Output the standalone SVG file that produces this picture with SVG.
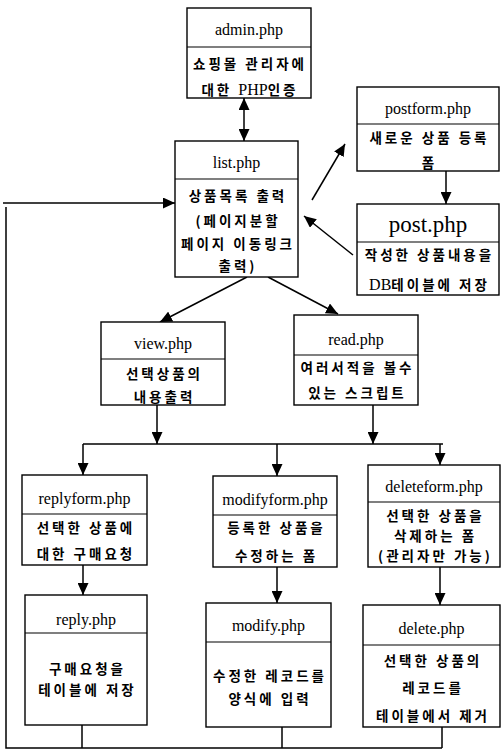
<svg xmlns="http://www.w3.org/2000/svg" width="502" height="754" viewBox="0 0 502 754">
<style>
.box{fill:#fff;stroke:#000;stroke-width:1.4}
.div{stroke:#000;stroke-width:1.2}
.t{font-family:"Liberation Serif","Noto Sans CJK KR",serif;font-size:16px;text-anchor:middle;dominant-baseline:central;fill:#000}
.k{font-family:"Noto Sans CJK KR",sans-serif;font-size:13.5px;font-weight:bold;text-anchor:middle;dominant-baseline:central;letter-spacing:3px;fill:#000}
.s{font-family:"Liberation Serif",serif;font-weight:normal;font-size:16px;letter-spacing:0}
.big{font-size:23px}
.c{stroke:#000;stroke-width:1.5;fill:none}
</style>
<defs>
<marker id="a" markerUnits="userSpaceOnUse" markerWidth="12" markerHeight="11" refX="12" refY="5.5" orient="auto-start-reverse">
<path d="M0,0 L12,5.5 L0,11 z" fill="#000"/>
</marker>
</defs>
<g id="connectors">
<line class="c" x1="244" y1="98" x2="244" y2="141" marker-start="url(#a)" marker-end="url(#a)"/>
<line class="c" x1="312" y1="200" x2="345" y2="144" marker-end="url(#a)"/>
<line class="c" x1="353" y1="255" x2="304" y2="216" marker-end="url(#a)"/>
<line class="c" x1="446" y1="171" x2="446" y2="204" marker-end="url(#a)"/>
<line class="c" x1="247" y1="277" x2="160" y2="322" marker-end="url(#a)"/>
<line class="c" x1="268" y1="277" x2="338" y2="314" marker-end="url(#a)"/>
<line class="c" x1="157" y1="405" x2="157" y2="444" marker-end="url(#a)"/>
<line class="c" x1="373" y1="405" x2="373" y2="444" marker-end="url(#a)"/>
<line class="c" x1="83" y1="444" x2="443" y2="444"/>
<line class="c" x1="83" y1="444" x2="83" y2="475" marker-end="url(#a)"/>
<line class="c" x1="277" y1="444" x2="277" y2="476" marker-end="url(#a)"/>
<line class="c" x1="440" y1="444" x2="440" y2="465" marker-end="url(#a)"/>
<line class="c" x1="83" y1="565" x2="83" y2="595" marker-end="url(#a)"/>
<line class="c" x1="277" y1="567" x2="277" y2="603" marker-end="url(#a)"/>
<line class="c" x1="440" y1="567" x2="440" y2="605" marker-end="url(#a)"/>
<line class="c" x1="82" y1="725" x2="82" y2="748"/>
<line class="c" x1="282" y1="727" x2="282" y2="748"/>
<line class="c" x1="442" y1="727" x2="442" y2="748"/>
<polyline class="c" points="442,748 6,748 6,207"/>
<line class="c" x1="3" y1="203" x2="175" y2="203" marker-end="url(#a)"/>
</g>
<g id="admin">
<rect class="box" x="187" y="8" width="124" height="90"/>
<line class="div" x1="187" y1="47" x2="311" y2="47"/>
<text class="t" x="249" y="29">admin.php</text>
<text class="k" x="250" y="63">쇼핑몰 관리자에</text>
<text class="k" x="250" y="89">대한 <tspan class="s">PHP</tspan>인증</text>
</g>
<g id="list">
<rect class="box" x="175" y="141" width="123" height="136"/>
<line class="div" x1="175" y1="179" x2="298" y2="179"/>
<text class="t" x="236.5" y="162">list.php</text>
<text class="k" x="238" y="195">상품목록 출력</text>
<text class="k" x="238" y="220">(페이지분할</text>
<text class="k" x="238" y="243">페이지 이동링크</text>
<text class="k" x="238" y="265">출력)</text>
</g>
<g id="postform">
<rect class="box" x="357" y="87" width="142" height="84"/>
<line class="div" x1="357" y1="124" x2="499" y2="124"/>
<text class="t" x="428" y="108">postform.php</text>
<text class="k" x="429.5" y="137">새로운 상품 등록</text>
<text class="k" x="429.5" y="162">폼</text>
</g>
<g id="post">
<rect class="box" x="357" y="204" width="142" height="91"/>
<line class="div" x1="357" y1="242" x2="499" y2="242"/>
<text class="t big" x="428" y="224">post.php</text>
<text class="k" x="429.5" y="254">작성한 상품내용을</text>
<text class="k" x="429.5" y="284"><tspan class="s">DB</tspan>테이블에 저장</text>
</g>
<g id="view">
<rect class="box" x="101" y="322" width="124" height="83"/>
<line class="div" x1="101" y1="359" x2="225" y2="359"/>
<text class="t" x="163" y="343">view.php</text>
<text class="k" x="164.5" y="373">선택상품의</text>
<text class="k" x="164.5" y="396">내용출력</text>
</g>
<g id="read">
<rect class="box" x="294" y="315" width="124" height="90"/>
<line class="div" x1="294" y1="355" x2="418" y2="355"/>
<text class="t" x="356" y="339">read.php</text>
<text class="k" x="357.5" y="367">여러서적을 볼수</text>
<text class="k" x="357.5" y="392">있는 스크립트</text>
</g>
<g id="replyform">
<rect class="box" x="22" y="475" width="125" height="90"/>
<line class="div" x1="22" y1="514" x2="147" y2="514"/>
<text class="t" x="84.5" y="498">replyform.php</text>
<text class="k" x="86" y="527">선택한 상품에</text>
<text class="k" x="86" y="553">대한 구매요청</text>
</g>
<g id="modifyform">
<rect class="box" x="213" y="476" width="124" height="91"/>
<line class="div" x1="213" y1="515" x2="337" y2="515"/>
<text class="t" x="275" y="499">modifyform.php</text>
<text class="k" x="276.5" y="527">등록한 상품을</text>
<text class="k" x="276.5" y="555">수정하는 폼</text>
</g>
<g id="deleteform">
<rect class="box" x="368" y="465" width="132" height="102"/>
<line class="div" x1="368" y1="502" x2="500" y2="502"/>
<text class="t" x="434" y="486">deleteform.php</text>
<text class="k" x="435.5" y="515">선택한 상품을</text>
<text class="k" x="435.5" y="535">삭제하는 폼</text>
<text class="k" x="435.5" y="555">(관리자만 가능)</text>
</g>
<g id="reply">
<rect class="box" x="25" y="595" width="122" height="130"/>
<line class="div" x1="25" y1="633" x2="147" y2="633"/>
<text class="t" x="86" y="619">reply.php</text>
<text class="k" x="87.5" y="668">구매요청을</text>
<text class="k" x="87.5" y="689">테이블에 저장</text>
</g>
<g id="modify">
<rect class="box" x="206" y="603" width="125" height="124"/>
<line class="div" x1="206" y1="642" x2="331" y2="642"/>
<text class="t" x="268.5" y="625">modify.php</text>
<text class="k" x="270" y="675">수정한 레코드를</text>
<text class="k" x="270" y="698">양식에 입력</text>
</g>
<g id="delete">
<rect class="box" x="363" y="605" width="137" height="122"/>
<line class="div" x1="363" y1="645" x2="500" y2="645"/>
<text class="t" x="431.5" y="628">delete.php</text>
<text class="k" x="433" y="660">선택한 상품의</text>
<text class="k" x="433" y="687">레코드를</text>
<text class="k" x="433" y="715">테이블에서 제거</text>
</g>
</svg>
